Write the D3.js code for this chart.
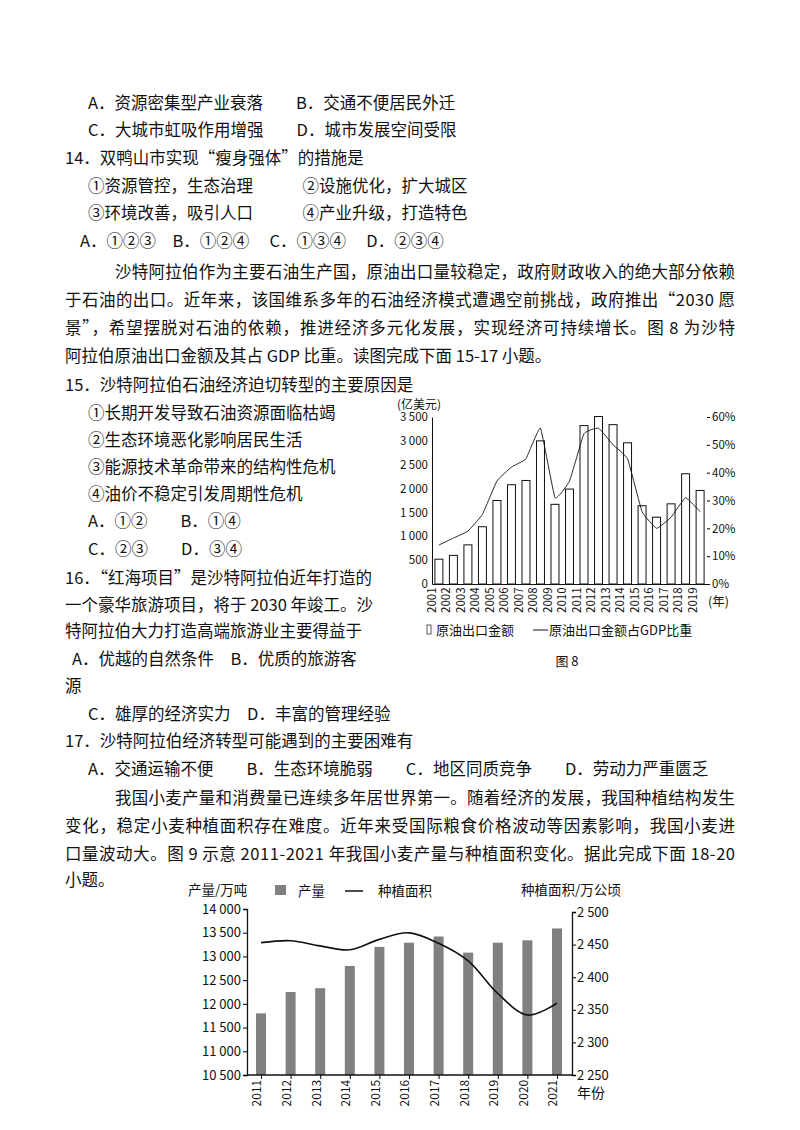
<!DOCTYPE html><html><head><meta charset="utf-8"><script src="https://cdn.jsdelivr.net/npm/d3@7"></script>
<style>body{margin:0;background:#fff}svg text{font-family:"Noto Sans CJK SC","Noto Sans",sans-serif;fill:#111}</style></head><body><svg id="s" width="800" height="1130"></svg>
<script>
const years1=["2001","2002","2003","2004","2005","2006","2007","2008","2009","2010","2011","2012","2013","2014","2015","2016","2017","2018","2019"];
const exports1=[520,600,820,1200,1750,2080,2170,3000,1670,1990,3320,3510,3340,2960,1640,1400,1680,2310,1960];
const share1=[14,16.5,19,25,37,42,45,56,31,37,54,56,50,45,26,20,24,31,26];
const leftTicks1=[0,500,1000,1500,2000,2500,3000,3500];
const rightTicks1=[0,10,20,30,40,50,60];
const years2=["2011","2012","2013","2014","2015","2016","2017","2018","2019","2020","2021"];
const output2=[11800,12250,12330,12800,13200,13290,13420,13080,13290,13340,13590];
const area2=[2453,2456,2448,2442,2458,2468,2452,2425,2375,2342,2360];
const leftTicks2=[10500,11000,11500,12000,12500,13000,13500,14000];
const rightTicks2=[2250,2300,2350,2400,2450,2500];
const lines=[
[88,103,"A．资源密集型产业衰落　　B．交通不便居民外迁"],
[88,130,"C．大城市虹吸作用增强　　D．城市发展空间受限"],
[65,158,"14．双鸭山市实现“瘦身强体”的措施是"],
[88,186,"①资源管控，生态治理　　　②设施优化，扩大城区"],
[88,213,"③环境改善，吸引人口　　　④产业升级，打造特色"],
[80,241,"A．①②③　B．①②④　 C．①③④　 D．②③④"],
[115,272,"沙特阿拉伯作为主要石油生产国，原油出口量较稳定，政府财政收入的绝大部分依赖",735],
[65,300,"于石油的出口。近年来，该国维系多年的石油经济模式遭遇空前挑战，政府推出“2030 愿",735],
[65,328,"景”，希望摆脱对石油的依赖，推进经济多元化发展，实现经济可持续增长。图 8 为沙特",735],
[65,356,"阿拉伯原油出口金额及其占 GDP 比重。读图完成下面 15-17 小题。"],
[65,385,"15．沙特阿拉伯石油经济迫切转型的主要原因是"],
[88,413,"①长期开发导致石油资源面临枯竭"],
[88,440,"②生态环境恶化影响居民生活"],
[88,467,"③能源技术革命带来的结构性危机"],
[88,494,"④油价不稳定引发周期性危机"],
[88,521,"A．①②　　B．①④"],
[88,549,"C．②③　　D．③④"],
[65,578,"16．“红海项目”是沙特阿拉伯近年打造的"],
[65,605,"一个豪华旅游项目，将于 2030 年竣工。沙"],
[65,631,"特阿拉伯大力打造高端旅游业主要得益于"],
[72,659,"A．优越的自然条件　B．优质的旅游客"],
[65,686,"源"],
[88,714,"C．雄厚的经济实力　D．丰富的管理经验"],
[65,741,"17．沙特阿拉伯经济转型可能遇到的主要困难有"],
[88,769,"A．交通运输不便　　B．生态环境脆弱　　C．地区同质竞争　　D．劳动力严重匮乏"],
[115,798,"我国小麦产量和消费量已连续多年居世界第一。随着经济的发展，我国种植结构发生",735],
[65,826,"变化，稳定小麦种植面积存在难度。近年来受国际粮食价格波动等因素影响，我国小麦进",735],
[65,854,"口量波动大。图 9 示意 2011-2021 年我国小麦产量与种植面积变化。据此完成下面 18-20",735],
[65,880,"小题。"]];
const svg=d3.select("#s");
lines.forEach(l=>{const t=svg.append("text").attr("x",l[0]).attr("y",l[1]+6).attr("font-size",16.5).text(l[2]);
 if(l[3]) t.attr("textLength",l[3]-l[0]).attr("lengthAdjust","spacing");});
// chart 1
const g1=svg.append("g");
const x1=d3.scaleBand().domain(years1).range([432,707]).paddingInner(0.45).paddingOuter(0.2);
const y1=d3.scaleLinear().domain([0,3500]).range([584,417]);
const yr1=d3.scaleLinear().domain([0,60]).range([584,417]);
g1.selectAll("rect").data(years1).enter().append("rect").attr("x",d=>x1(d)).attr("width",x1.bandwidth())
 .attr("y",(d,i)=>y1(exports1[i])).attr("height",(d,i)=>584-y1(exports1[i])).attr("fill","#fff").attr("stroke","#111").attr("stroke-width",1);
const ax1=g1.append("g").attr("transform","translate(432,0)").call(d3.axisLeft(y1).tickValues(leftTicks1).tickSize(0).tickPadding(4).tickFormat(d=>d3.format(",")(d).replace(","," ")));
ax1.select(".domain").attr("stroke","#111");
const axb=g1.append("g").attr("transform","translate(0,584)").call(d3.axisBottom(x1).tickSize(0).tickPadding(3));
axb.select(".domain").attr("stroke","#111");
axb.selectAll("text").attr("transform","rotate(-90)").attr("text-anchor","end").attr("dx","-0.3em").attr("dy","-0.55em");
const axr=g1.append("g").attr("transform","translate(707,0)").call(d3.axisRight(yr1).tickValues(rightTicks1).tickSize(3).tickPadding(2).tickFormat(d=>d+"%"));
axr.select(".domain").remove();
g1.selectAll(".tick text").attr("font-size",11.5).attr("font-family","Liberation Serif,serif");
g1.append("path").datum(share1).attr("fill","none").attr("stroke","#111").attr("stroke-width",0.9)
 .attr("d",d3.line().x((d,i)=>x1(years1[i])+x1.bandwidth()/2).y(d=>yr1(d)).curve(d3.curveCardinal.tension(0.7)));
g1.append("text").attr("x",397).attr("y",409).attr("font-size",12).text("(亿美元)");
g1.append("text").attr("x",708).attr("y",606).attr("font-size",12.5).text("(年)");
g1.append("rect").attr("x",427).attr("y",625).attr("width",4).attr("height",9).attr("fill","#fff").attr("stroke","#111").attr("stroke-width",0.7);
g1.append("text").attr("x",436).attr("y",635).attr("font-size",13).text("原油出口金额");
g1.append("line").attr("x1",533).attr("x2",548).attr("y1",630).attr("y2",630).attr("stroke","#111");
g1.append("text").attr("x",549).attr("y",635).attr("font-size",13).text("原油出口金额占GDP比重");
g1.append("text").attr("x",567).attr("y",666).attr("font-size",13).attr("text-anchor","middle").text("图 8");
// chart 2
const g2=svg.append("g");
const x2=d3.scalePoint().domain(years2).range([261,557]);
const y2=d3.scaleLinear().domain([10500,14000]).range([1075,909]);
const yr2=d3.scaleLinear().domain([2250,2500]).range([1075,912]);
g2.selectAll("rect").data(years2).enter().append("rect").attr("x",d=>x2(d)-5).attr("width",10)
 .attr("y",(d,i)=>y2(output2[i])).attr("height",(d,i)=>1075-y2(output2[i])).attr("fill","#808080");
const fmt=d=>d3.format(",")(d).replace(","," ");
const a2=g2.append("g").attr("transform","translate(247,0)").call(d3.axisLeft(y2).tickValues(leftTicks2).tickSize(4).tickPadding(2).tickFormat(fmt));
const b2=g2.append("g").attr("transform","translate(0,1075)").call(d3.axisBottom(x2).tickSize(4).tickPadding(3));
b2.select(".domain").attr("d","M247,0H572");
b2.selectAll("text").attr("transform","rotate(-90)").attr("text-anchor","end").attr("dx","-0.4em").attr("dy","-0.6em");
const r2=g2.append("g").attr("transform","translate(572,0)").call(d3.axisRight(yr2).tickValues(rightTicks2).tickSize(4).tickPadding(1).tickFormat(fmt));
g2.selectAll(".domain").attr("stroke","#111").attr("stroke-width",1.3);
g2.selectAll(".tick text").attr("font-size",13).attr("font-family","'Open Sans',sans-serif");
b2.selectAll(".tick text").attr("font-size",12);
g2.append("path").datum(area2).attr("fill","none").attr("stroke","#111").attr("stroke-width",1.6)
 .attr("d",d3.line().x((d,i)=>x2(years2[i])).y(d=>yr2(d)).curve(d3.curveCatmullRom));
g2.append("text").attr("x",188).attr("y",895).attr("font-size",13.5).text("产量/万吨");
g2.append("rect").attr("x",275).attr("y",885).attr("width",11).attr("height",10).attr("fill","#808080");
g2.append("text").attr("x",298).attr("y",896).attr("font-size",13.5).text("产量");
g2.append("line").attr("x1",345).attr("x2",363).attr("y1",891).attr("y2",891).attr("stroke","#111").attr("stroke-width",1.5);
g2.append("text").attr("x",378).attr("y",896).attr("font-size",13.5).text("种植面积");
g2.append("text").attr("x",521).attr("y",895).attr("font-size",13.5).text("种植面积/万公顷");
g2.append("text").attr("x",577).attr("y",1098).attr("font-size",14).text("年份");
</script></body></html>
